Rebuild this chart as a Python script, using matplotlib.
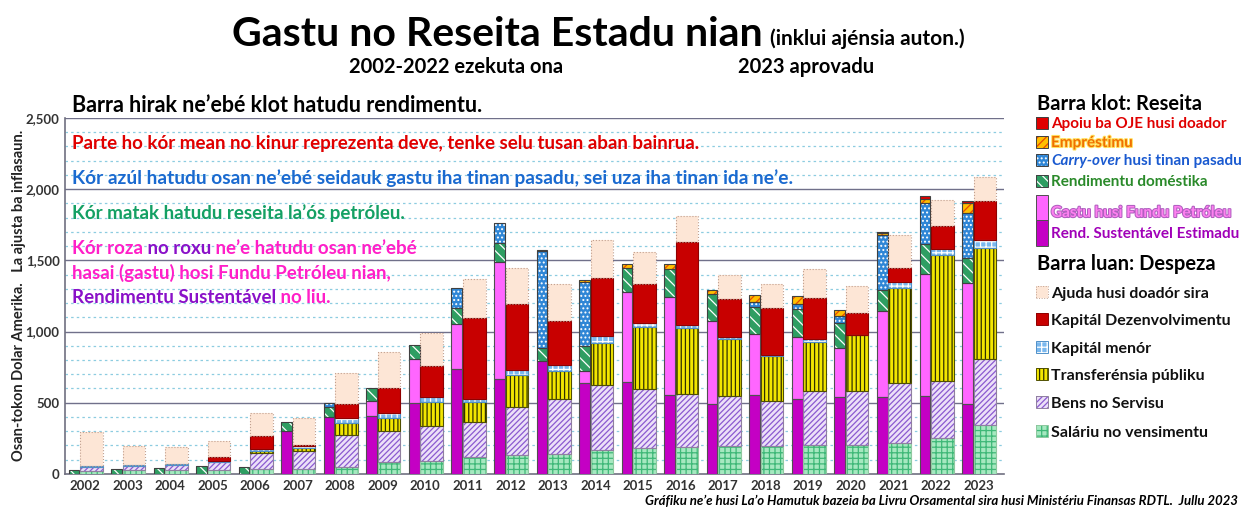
import numpy as np
import matplotlib
matplotlib.use("Agg")
import matplotlib.pyplot as plt
from matplotlib.patches import Rectangle
import matplotlib.patheffects as pe

plt.rcParams['font.family'] = ['Lato', 'DejaVu Sans']
plt.rcParams['hatch.linewidth'] = 0.9

# Data (millions USD, not adjusted for inflation)
years = [str(y) for y in range(2002, 2024)]

# receipts (narrow bar), bottom to top
rend_sust = [0, 0, 0, 0, 0, 304, 401, 410, 500, 737, 667, 791, 640, 644, 551, 488, 553, 528, 542, 542, 549, 488]
gastu_fp = [0, 0, 0, 0, 0, 0, 0, 102, 307, 314, 822, 0, 86, 635, 689, 586, 428, 434, 339, 600, 853, 853]
domestika = [28, 35, 45, 57, 52, 59, 71, 94, 100, 112, 134, 93, 169, 170, 202, 189, 194, 199, 182, 147, 210, 177]
carry_over = [0, 0, 0, 0, 0, 0, 28, 0, 0, 144, 138, 681, 454, 0, 0, 0, 34, 30, 47, 386, 292, 313]
emprestimu = [0, 0, 0, 0, 0, 0, 0, 0, 0, 0, 0, 6, 16, 23, 30, 28, 47, 56, 44, 15, 28, 73]
apoiu_oje = [0, 0, 0, 0, 0, 0, 0, 0, 0, 0, 0, 0, 0, 0, 0, 0, 0, 0, 0, 8, 21, 11]

# expenditure (wide bar), bottom to top
salariu = [21, 25, 25, 25, 33, 33, 52, 87, 93, 116, 133, 140, 170, 184, 186, 198, 198, 201, 203, 220, 255, 343]
bens = [31, 34, 39, 62, 113, 125, 224, 213, 244, 249, 339, 388, 458, 414, 372, 349, 314, 383, 381, 422, 399, 461]
transferensia = [0, 0, 0, 0, 17, 24, 82, 94, 170, 140, 221, 198, 291, 432, 470, 402, 318, 339, 390, 664, 881, 784]
kapital_menor = [3, 3, 3, 5, 12, 11, 36, 35, 35, 23, 35, 39, 51, 28, 19, 11, 3, 28, 5, 42, 42, 52]
kapital_dezenv = [0, 0, 0, 24, 89, 7, 94, 177, 218, 565, 465, 312, 409, 275, 581, 266, 330, 285, 152, 98, 161, 275]
ajuda = [238, 136, 122, 118, 165, 194, 224, 248, 228, 279, 256, 260, 265, 225, 182, 174, 174, 201, 186, 229, 187, 169]

# styles: (face, hatch, hatch colour, outline)
S_SUST = ('#c400c4', None, None, '#505050')
S_FP = ('#ff66ff', None, None, '#505050')
S_DOM = ('#2e9e62', '\\\\\\', 'white', '#404040')
S_CO = ('#2f86d6', '....', 'white', '#404040')
S_LOAN = ('#ffc000', '////', '#e84a00', '#404040')
S_OJE = ('#e00000', None, None, '#404040')
S_SAL = ('#a6e8c0', '+++', '#3fb878', '#90c8a0')
S_BENS = ('#ece0f8', '//////', '#8a5ad0', '#9080a0')
S_TRANS = ('#f2e600', '||||', '#303000', '#505000')
S_MENOR = ('#7ab8ee', '+++', 'white', '#5090c8')
S_KDEV = ('#c80000', None, None, '#900000')
S_AJUDA = ('#fde6d6', None, None, '#c0a090')

fig = plt.figure(figsize=(12.41, 5.08), dpi=100)
ax = fig.add_axes([0.052, 0.067, 0.757, 0.701])

x = np.arange(len(years))
xr = x - 0.26
xe = x + 0.15
wr, we = 0.25, 0.53


def seg(xpos, w, vals, bottom, style, ls='-'):
    fc, h, hc, oc = style
    vals = np.array(vals, dtype=float)
    if h:
        ax.bar(xpos, vals, w, bottom=bottom, color=fc, hatch=h, edgecolor=hc, linewidth=0, zorder=3)
    else:
        ax.bar(xpos, vals, w, bottom=bottom, color=fc, linewidth=0, zorder=3)
    mask = vals > 0
    ax.bar(xpos[mask], vals[mask], w, bottom=bottom[mask], fill=False, edgecolor=oc,
           linewidth=0.8, linestyle=ls, zorder=4)
    return bottom + vals


b = np.zeros(len(years))
for vals, st in [(rend_sust, S_SUST), (gastu_fp, S_FP), (domestika, S_DOM),
                 (carry_over, S_CO), (emprestimu, S_LOAN), (apoiu_oje, S_OJE)]:
    b = seg(xr, wr, vals, b, st)

b = np.zeros(len(years))
for vals, st in [(salariu, S_SAL), (bens, S_BENS), (transferensia, S_TRANS),
                 (kapital_menor, S_MENOR), (kapital_dezenv, S_KDEV)]:
    b = seg(xe, we, vals, b, st)
b = seg(xe, we, ajuda, b, S_AJUDA, ls=':')

# grid
for v in range(100, 2600, 100):
    if v % 500 == 0:
        ax.axhline(v, color='#70708a', lw=1.0, zorder=1)
    else:
        ax.axhline(v, color='#8ccce0', lw=0.9, ls=(0, (2, 2.5)), zorder=1)

ax.set_xlim(-0.48, 21.6)
ax.set_ylim(0, 2500)
ax.set_yticks(range(0, 2501, 500))
ax.set_yticklabels(['0', '500', '1,000', '1,500', '2,000', '2,500'])
ax.set_xticks(x)
ax.set_xticklabels(years)
ax.tick_params(axis='both', length=0, labelsize=9.5, labelcolor='#333333')
ax.tick_params(axis='x', pad=4)
for lab in ax.get_xticklabels() + ax.get_yticklabels():
    lab.set_fontweight('bold')
for s in ['top', 'right']:
    ax.spines[s].set_visible(False)
ax.spines['left'].set_color('#707080')
ax.spines['bottom'].set_color('#707080')
ax.spines['left'].set_linewidth(1.2)
ax.spines['bottom'].set_linewidth(1.2)

W, H = 1241, 508


def fx(px):
    return px / W


def fy(py):
    return 1 - py / H


fig.text(fx(19), fy(295), 'Osan-tokon Dolar Amerika.   La ajusta ba inflasaun.', fontsize=10.5,
         fontweight='bold', color='#222222', rotation=90, ha='center', va='center')

renderer = fig.canvas.get_renderer()


def multitext(px, py, pieces, size, weight='bold'):
    xpos = px
    for txt, col, style in pieces:
        t = fig.text(fx(xpos), fy(py), txt, color=col, fontsize=size, fontweight=weight,
                     fontstyle=style, va='baseline', ha='left')
        bb = t.get_window_extent(renderer)
        xpos += bb.width


# titles
multitext(232, 46, [('Gastu no Reseita Estadu nian', 'black', 'normal')], 29.5)
multitext(770, 45, [('(inklui ajénsia auton.)', 'black', 'normal')], 15)
fig.text(fx(456), fy(73), '2002-2022 ezekuta ona', fontsize=14.5, fontweight='bold', ha='center')
fig.text(fx(806), fy(73), '2023 aprovadu', fontsize=14.5, fontweight='bold', ha='center')

# notes inside plot
MAG, PUR = '#ff1fc8', '#8a10c8'
fig.text(fx(72), fy(112), "Barra hirak ne’ebé klot hatudu rendimentu.", fontsize=15.5, fontweight='bold')
fig.text(fx(72), fy(149), "Parte ho kór mean no kinur reprezenta deve, tenke selu tusan aban bainrua.",
         fontsize=13.5, fontweight='bold', color='#e00000')
fig.text(fx(72), fy(184), "Kór azúl hatudu osan ne’ebé seidauk gastu iha tinan pasadu, sei uza iha tinan ida ne’e.",
         fontsize=13.8, fontweight='bold', color='#1a6ad0')
fig.text(fx(72), fy(219), "Kór matak hatudu reseita la’ós petróleu.", fontsize=13.5, fontweight='bold',
         color='#14a064')
multitext(72, 254, [("Kór roza", MAG, 'normal'), (" no roxu", PUR, 'normal'),
                    (" ne’e hatudu osan ne’ebé", MAG, 'normal')], 13.5)
multitext(72, 279, [("hasai (gastu) hosi Fundu Petróleu nian,", MAG, 'normal')], 13.5)
multitext(72, 303, [("Rendimentu Sustentável", PUR, 'normal'), (" no liu.", MAG, 'normal')], 13.5)

# legend
fig.text(fx(1037), fy(110), 'Barra klot: Reseita', fontsize=14.5, fontweight='bold')
fig.text(fx(1037), fy(270), 'Barra luan: Despeza', fontsize=14.5, fontweight='bold')


def swatch(px, py, w, h, style, ls='-'):
    fc, hh, hc, oc = style
    fig.patches.append(Rectangle((fx(px), fy(py + h)), w / W, h / H, transform=fig.transFigure,
                                 facecolor=fc, hatch=hh, edgecolor=hc if hh else fc, linewidth=0))
    fig.patches.append(Rectangle((fx(px), fy(py + h)), w / W, h / H, transform=fig.transFigure,
                                 fill=False, edgecolor=oc, linewidth=0.7, linestyle=ls))


rec_items = [
    (S_OJE, 117, [('Apoiu ba OJE husi doador', '#e00000', 'normal')], None),
    (S_LOAN, 136, [('Empréstimu', '#f07000', 'normal')], '#ffe060'),
    (S_CO, 154, [('Carry-over', '#1a5ad0', 'italic'), (' husi tinan pasadu', '#1a5ad0', 'normal')], None),
    (S_DOM, 175, [('Rendimentu doméstika', '#2a8a2a', 'normal')], None),
]
for st, py, pieces, stroke in rec_items:
    swatch(1036, py, 12, 12, st)
    xpos = 1051
    for txt, col, style in pieces:
        t = fig.text(fx(xpos), fy(py + 11), txt, color=col, fontsize=11, fontweight='bold',
                     fontstyle=style)
        if stroke:
            t.set_path_effects([pe.withStroke(linewidth=1.5, foreground=stroke)])
        xpos += t.get_window_extent(renderer).width

swatch(1036, 195, 12, 25, S_FP)
swatch(1036, 220, 12, 26, S_SUST)
t = fig.text(fx(1051), fy(217), 'Gastu husi Fundu Petróleu', color='#ff80f0', fontsize=11,
             fontweight='bold')
t.set_path_effects([pe.withStroke(linewidth=1.5, foreground='#b060c0')])
fig.text(fx(1051), fy(238), 'Rend. Sustentável Estimadu', color='#a000b8', fontsize=11, fontweight='bold')

exp_items = [
    (S_AJUDA, 286, 'Ajuda husi doadór sira', ':'),
    (S_KDEV, 313, 'Kapitál Dezenvolvimentu', '-'),
    (S_MENOR, 341, 'Kapitál menór', '-'),
    (S_TRANS, 368, 'Transferénsia públiku', '-'),
    (S_BENS, 396, 'Bens no Servisu', '-'),
    (S_SAL, 425, 'Saláriu no vensimentu', '-'),
]
for st, py, txt, ls in exp_items:
    swatch(1036, py, 12, 12, st, ls)
    fig.text(fx(1051), fy(py + 12), txt, fontsize=11.5, fontweight='bold', color='#111111')

fig.text(fx(1238), fy(505), 'Gráfiku ne’e husi La’o Hamutuk bazeia ba Livru Orsamental sira husi '
         'Ministériu Finansas RDTL.  Jullu 2023', fontsize=9.5, fontweight='bold',
         fontstyle='italic', ha='right')

fig.savefig('out.png', dpi=100)
